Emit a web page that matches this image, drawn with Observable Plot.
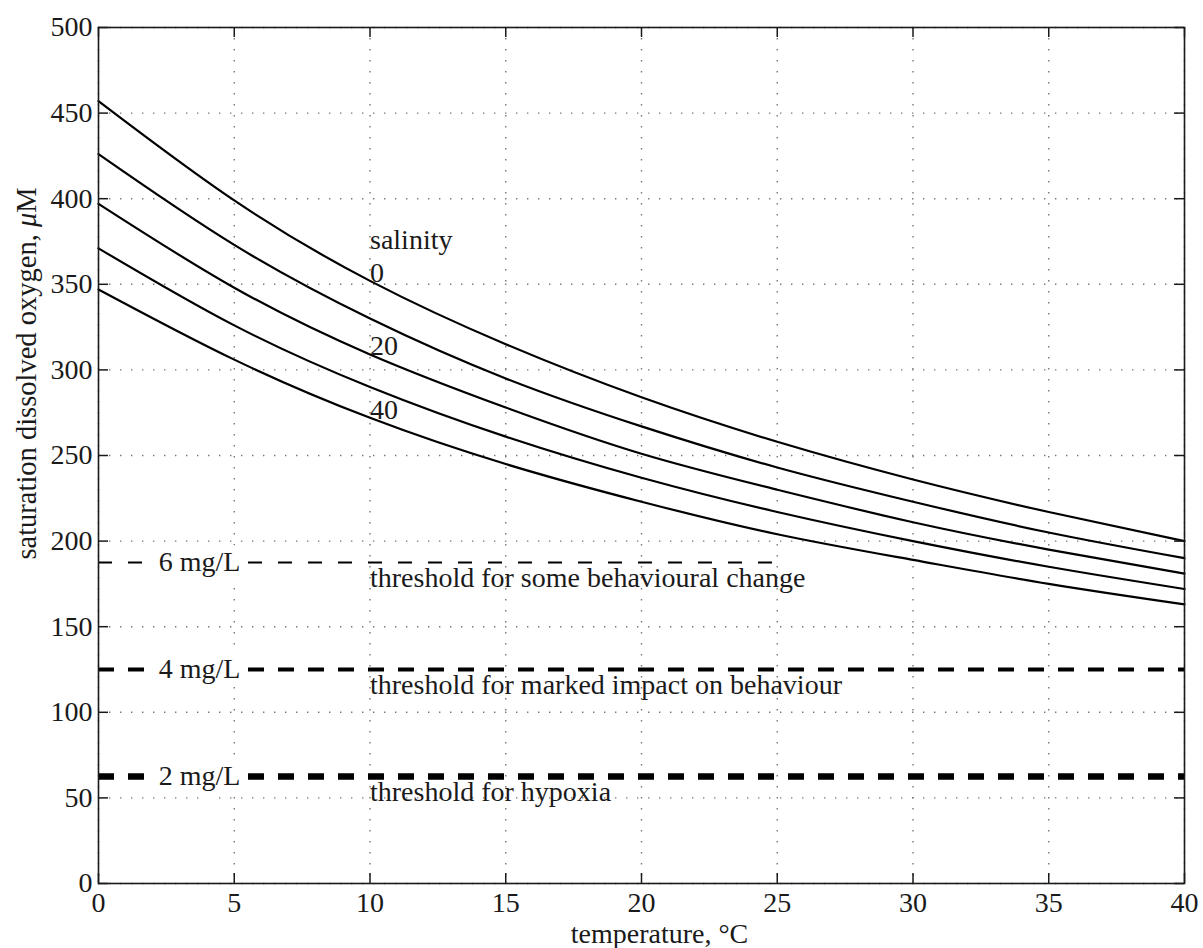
<!DOCTYPE html>
<html><head><meta charset="utf-8">
<script src="https://cdn.jsdelivr.net/npm/d3@7"></script>
<script src="https://cdn.jsdelivr.net/npm/@observablehq/plot@0.6"></script>
<style>body{margin:0;background:#fff}</style>
</head><body><div id="chart"></div>
<script>
// temperature (°C) at which values were read
const temperature = [0, 5, 10, 15, 20, 25, 30, 35, 40];
// salinities of the five curves
const salinities = [0, 10, 20, 30, 40];
// saturation dissolved oxygen (µM)
const oxygenS0  = [457, 399, 352, 315, 284, 258, 236, 217, 200];
const oxygenS10 = [426, 373, 330, 295, 267, 243, 223, 205, 190];
const oxygenS20 = [397, 348, 309, 278, 251, 230, 211, 195, 181];
const oxygenS30 = [371, 326, 290, 261, 237, 217, 200, 185, 172];
const oxygenS40 = [347, 306, 272, 245, 223, 204, 189, 175, 163];
const oxygenSeries = [oxygenS0, oxygenS10, oxygenS20, oxygenS30, oxygenS40];
// labelled salinities
const labelledSalinities = [0, 20, 40];
// thresholds
const thresholdMgL = [6, 4, 2];
const thresholdUM = [187.5, 125, 62.5];
const thresholdStart = [0, 0, 0];
const thresholdEnd = [25, 40, 40];
const thresholdText = [
  "threshold for some behavioural change",
  "threshold for marked impact on behaviour",
  "threshold for hypoxia"
];
// ticks
const xTicks = [0, 5, 10, 15, 20, 25, 30, 35, 40];
const yTicks = [0, 50, 100, 150, 200, 250, 300, 350, 400, 450, 500];
const xLabel = "temperature, \u00b0C";
const yLabel = "saturation dissolved oxygen, \u03bcM";

const curves = [];
salinities.forEach((s, i) => temperature.forEach((t, j) => curves.push({s, t, o: oxygenSeries[i][j]})));
const salinityLabels = labelledSalinities.map(s => ({s, t: 10, o: curves.find(d => d.s === s && d.t === 10).o}));
const thresholds = thresholdMgL.map((mg, i) => ({mg, um: thresholdUM[i], start: thresholdStart[i], end: thresholdEnd[i], text: thresholdText[i]}));

const font = "'Liberation Serif', 'DejaVu Serif', serif";
const W = 1203, H = 948, mL = 98, mR = 19, mT = 27, mB = 65;
const fw = W - mL - mR, fh = H - mT - mB;
const ink = "#1a1a1a";
const fs = 28;

const dashW = [2, 4, 6.5];
const plot = Plot.plot({
  width: W, height: H,
  marginLeft: mL, marginRight: mR, marginTop: mT, marginBottom: mB,
  style: {fontFamily: font, fontSize: fs + "px", color: ink, background: "#fff"},
  x: {domain: [0, 40]},
  y: {domain: [0, 500]},
  marks: [
    Plot.gridX(xTicks, {stroke: "#777", strokeOpacity: 1, strokeWidth: 1.4, strokeDasharray: "1.4,9.6"}),
    Plot.gridY(yTicks, {stroke: "#777", strokeOpacity: 1, strokeWidth: 1.4, strokeDasharray: "1.4,9.6"}),
    ...thresholds.map((d, i) => Plot.ruleY([d], {y: "um", x1: "start", x2: "end", stroke: "#000", strokeWidth: dashW[i], strokeDasharray: i === 0 ? "14,16" : "16,14"})),
    Plot.text(thresholds, {y: "um", frameAnchor: "left", dx: 101, text: d => `${d.mg} mg/L`, fill: ink, stroke: "#fff", strokeWidth: 16, fontSize: fs, textAnchor: "middle", lineAnchor: "middle"}),
    Plot.text(thresholds, {y: "um", x: () => 10, text: "text", textAnchor: "start", lineAnchor: "top", dy: 5, fill: ink, fontSize: fs}),
    Plot.line(curves, {x: "t", y: "o", z: "s", curve: "natural", stroke: "#000", strokeWidth: 2.2}),
    Plot.text(salinityLabels, {x: "t", y: "o", text: d => d.s === 0 ? `salinity\n${d.s}` : `${d.s}`, textAnchor: "start", lineAnchor: "bottom", lineHeight: 1.18, dy: 1, fill: ink, fontSize: fs}),
    // inward ticks
    Plot.tickY(yTicks, {y: d => d, insetRight: fw - 10, stroke: ink, strokeWidth: 1.5}),
    Plot.tickY(yTicks, {y: d => d, insetLeft: fw - 10, stroke: ink, strokeWidth: 1.5}),
    Plot.tickX(xTicks, {x: d => d, insetTop: fh - 10, stroke: ink, strokeWidth: 1.5}),
    Plot.tickX(xTicks, {x: d => d, insetBottom: fh - 10, stroke: ink, strokeWidth: 1.5}),
    Plot.axisY(yTicks, {anchor: "left", tickSize: 0, tickPadding: 6, label: null, fontSize: fs}),
    Plot.axisX(xTicks, {anchor: "bottom", tickSize: 0, tickPadding: 9, label: null, fontSize: fs}),
    Plot.frame({stroke: ink, strokeWidth: 1.6}),
    Plot.text([xLabel], {frameAnchor: "bottom", dx: 18, dy: 51, textAnchor: "middle", lineAnchor: "middle", fontSize: fs, fill: ink}),
    Plot.text([yLabel], {frameAnchor: "left", dx: -72, dy: -82, rotate: -90, textAnchor: "middle", lineAnchor: "middle", fontSize: 28.5, fill: ink, className: "ylabel"})
  ]
});
document.getElementById("chart").appendChild(plot);
// italic mu in the y label
d3.select(plot).selectAll(".ylabel text").each(function() {
  const t = d3.select(this);
  const s = t.text();
  const k = s.indexOf("\u03bc");
  if (k >= 0) {
    t.text(null);
    t.append("tspan").text(s.slice(0, k));
    t.append("tspan").attr("font-style", "italic").text("\u03bc");
    t.append("tspan").text(s.slice(k + 1));
  }
});
</script>
</body></html>
